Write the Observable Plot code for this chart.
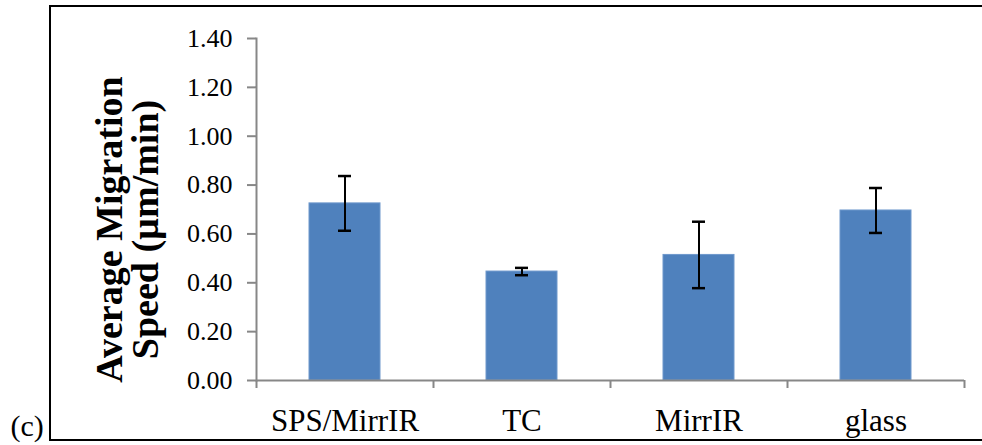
<!DOCTYPE html>
<html>
<head>
<meta charset="utf-8">
<script src="https://cdn.jsdelivr.net/npm/d3@7"></script>
<script src="https://cdn.jsdelivr.net/npm/@observablehq/plot@0.6"></script>
<style>
  html, body { margin: 0; padding: 0; background: #fff; overflow: hidden; }
  #wrap { position: relative; width: 982px; height: 445px; }
  #border { position: absolute; left: 49px; top: 5px; width: 1000px; height: 432px; border: 2px solid #000; border-right: none; box-sizing: content-box; }
  #chart { position: absolute; left: 0; top: 0; }
</style>
</head>
<body>
<div id="wrap"><div id="border"></div><div id="chart"></div></div>
<script>
const categories = ["SPS/MirrIR", "TC", "MirrIR", "glass"];
const means = [0.725, 0.446, 0.514, 0.696];
const errors = [0.112, 0.015, 0.136, 0.092];
const yTicks = [0, 0.2, 0.4, 0.6, 0.8, 1.0, 1.2, 1.4];
const yTitle = "Average Migration\nSpeed (µm/min)";
const panelLabel = "(c)";

const data = categories.map((c, i) => ({cat: c, mean: means[i], lo: means[i] - errors[i], hi: means[i] + errors[i]}));

const W = 982, H = 445;
const mL = 256, mR = 18, mT = 38, mB = 65;
const step = (W - mL - mR) / categories.length;
const gray = "#878787";
const font = "'Liberation Serif', 'Times New Roman', serif";

const chart = Plot.plot({
  width: W,
  height: H,
  marginLeft: mL,
  marginRight: mR,
  marginTop: mT,
  marginBottom: mB,
  style: {background: "transparent", fontFamily: font, color: "#000", overflow: "visible"},
  x: {domain: categories, paddingInner: 0.6, paddingOuter: 0.3, label: null},
  y: {domain: [0, 1.4], label: null},
  marks: [
    Plot.barY(data, {x: "cat", y: "mean", fill: "#4F81BD", stroke: "#6E98CC", strokeWidth: 1}),
    Plot.frame({anchor: "left", stroke: gray, strokeWidth: 2}),
    Plot.ruleY([0], {stroke: gray, strokeWidth: 2}),
    Plot.ruleX(categories, {x: d => d, y1: 0, y2: 0, insetBottom: -8, dx: -step / 2, stroke: gray, strokeWidth: 2}),
    Plot.ruleX(categories.slice(-1), {x: d => d, y1: 0, y2: 0, insetBottom: -8, dx: step / 2, stroke: gray, strokeWidth: 2}),
    Plot.axisY({ticks: yTicks, tickSize: 9, tickPadding: 15, tickFormat: d3.format(".2f"), fontSize: 26, stroke: gray, strokeWidth: 2, fill: "#000", label: null}),
    Plot.axisX({tickSize: 0, tickPadding: 28, fontSize: 31, fill: "#000", label: null}),
    Plot.ruleX(data, {x: "cat", y1: "lo", y2: "hi", stroke: "#000", strokeWidth: 2}),
    Plot.tickY(data, {x: "cat", y: "lo", insetLeft: 29, insetRight: 29, stroke: "#000", strokeWidth: 2.5}),
    Plot.tickY(data, {x: "cat", y: "hi", insetLeft: 29, insetRight: 29, stroke: "#000", strokeWidth: 2.5}),
    Plot.text([yTitle], {frameAnchor: "left", text: d => d, rotate: -90, textAnchor: "middle", lineAnchor: "middle", lineHeight: 0.95, fontSize: 38, fontWeight: "bold", dx: -128, dy: 20, fill: "#000"}),
    Plot.text([panelLabel], {frameAnchor: "bottom-left", text: d => d, textAnchor: "start", lineAnchor: "middle", fontSize: 30, dx: -246, dy: 46, fill: "#000"})
  ]
});
document.getElementById("chart").appendChild(chart);
</script>
</body>
</html>
